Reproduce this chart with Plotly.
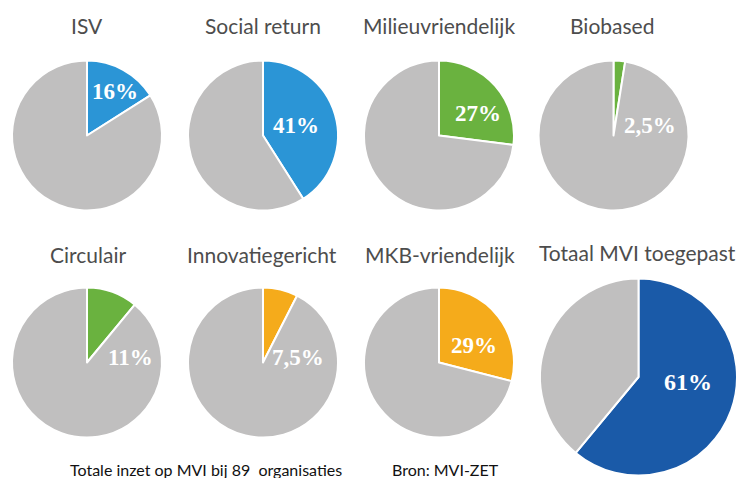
import plotly.graph_objects as go

titles = ["ISV", "Social return", "Milieuvriendelijk", "Biobased",
          "Circulair", "Innovatiegericht", "MKB-vriendelijk", "Totaal MVI toegepast"]
values = [16, 41, 27, 2.5, 11, 7.5, 29, 61]
labels = ["16%", "41%", "27%", "2,5%", "11%", "7,5%", "29%", "61%"]
colors = ["#2b95d6", "#2b95d6", "#6ab23f", "#6ab23f",
          "#6ab23f", "#f5ab1b", "#f5ab1b", "#1a5aa8"]
rest_color = "#c0bfbf"
footer_left = "Totale inzet op MVI bij 89  organisaties"
footer_right = "Bron: MVI-ZET"

W, H = 737, 478
# layout: pixel centers/radii of each pie
centers = [(87, 135.5), (263, 135.5), (439, 135.5), (613.5, 135.5),
           (87, 362.5), (263, 362.5), (439, 362.5), (638.5, 377)]
radii = [75, 75, 75, 75, 75, 75, 75, 98.5]
title_pos = [(87, 25), (263, 25), (439, 25), (612, 25),
             (88, 254), (262, 254), (440, 254), (637, 252)]
label_pos = [(115, 92), (296, 125), (478, 113), (650, 125),
             (130, 357), (298, 357), (474, 345), (688, 382)]
label_size = [23, 23, 23, 23, 23, 23, 23, 24]

fig = go.Figure()
for i, v in enumerate(values):
    cx, cy = centers[i]
    r = radii[i]
    x0 = max(0, (cx - r) / W); x1 = min(1, (cx + r) / W)
    y0 = max(0, 1 - (cy + r) / H); y1 = min(1, 1 - (cy - r) / H)
    fig.add_trace(go.Pie(
        values=[v, 100 - v], labels=[titles[i], "Overig"],
        sort=False, direction="clockwise", rotation=0,
        marker=dict(colors=[colors[i], rest_color], line=dict(color="white", width=2)),
        textinfo="none", showlegend=False,
        domain=dict(x=[x0, x1], y=[y0, y1]),
    ))

annotations = []
for i, t in enumerate(titles):
    tx, ty = title_pos[i]
    annotations.append(dict(text=t, x=tx / W, y=1 - ty / H, xref="paper", yref="paper",
                            showarrow=False, xanchor="center", yanchor="middle",
                            font=dict(family="Lato", size=21, color="#4d4d4d")))
for i, t in enumerate(labels):
    lx, ly = label_pos[i]
    annotations.append(dict(text="<b>" + t + "</b>", x=lx / W, y=1 - ly / H,
                            xref="paper", yref="paper", showarrow=False,
                            xanchor="center", yanchor="middle",
                            font=dict(family="Liberation Serif", size=label_size[i], color="white")))
annotations.append(dict(text=footer_left, x=206 / W, y=1 - 469 / H,
                        xref="paper", yref="paper",
                        showarrow=False, xanchor="center", yanchor="middle",
                        font=dict(family="Lato", size=16, color="#111111")))
annotations.append(dict(text=footer_right, x=445 / W, y=1 - 469 / H,
                        xref="paper", yref="paper",
                        showarrow=False, xanchor="center", yanchor="middle",
                        font=dict(family="Lato", size=16, color="#111111")))

fig.update_layout(width=W, height=H, margin=dict(l=0, r=0, t=0, b=0),
                  paper_bgcolor="white", plot_bgcolor="white",
                  annotations=annotations)
fig.write_html("out.html", config={"displayModeBar": False},
               post_script="document.body.style.margin='0';document.body.style.overflow='hidden';")
